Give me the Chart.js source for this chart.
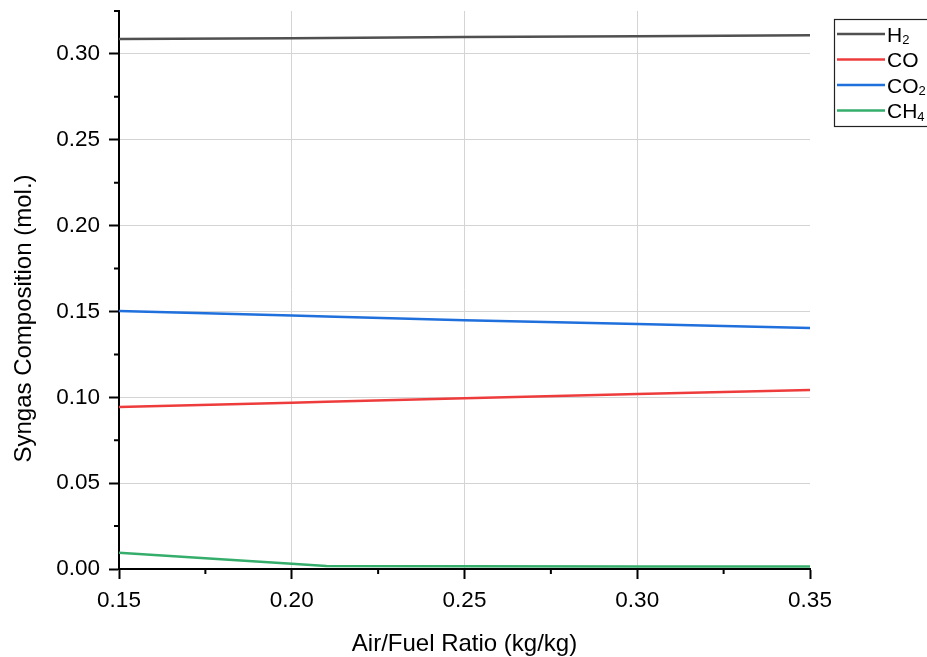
<!DOCTYPE html>
<html>
<head>
<meta charset="utf-8">
<script src="https://cdn.jsdelivr.net/npm/chart.js"></script>
<style>
  html, body { margin: 0; padding: 0; background: #fff; }
  #wrap { width: 927px; height: 657px; }
</style>
</head>
<body>
<div id="wrap"><canvas id="chart" width="927" height="657"></canvas></div>
<script>
// values
const airFuel = [0.15, 0.20, 0.21, 0.25, 0.30, 0.35]
const h2 = [0.3087, 0.3092, 0.3093, 0.3098, 0.3103, 0.3109]
const co = [0.0944, 0.0969, 0.0974, 0.0994, 0.1019, 0.1043]
const co2 = [0.1503, 0.1476, 0.1471, 0.1449, 0.1427, 0.1404]
const ch4 = [0.0095, 0.0030, 0.0017, 0.0016, 0.0015, 0.0015]

const seriesLabels = ['H2', 'CO', 'CO2', 'CH4']
const seriesColors = ['#505050', '#ee3c3c', '#1f6fdc', '#35ad6b']

const xTicks = [0.15, 0.20, 0.25, 0.30, 0.35]
const xMinorTicks = [0.175, 0.225, 0.275, 0.325]
const yTicks = [0, 0.05, 0.10, 0.15, 0.20, 0.25, 0.30]
const yMinorTicks = [0.025, 0.075, 0.125, 0.175, 0.225, 0.275, 0.325]

const yTitle = 'Syngas Composition (mol.)'
const xTitle = 'Air/Fuel Ratio (kg/kg)'

const FONT = 'Arial, "Liberation Sans", sans-serif'

function points(vals) {
  return airFuel.map((x, i) => ({ x: x, y: vals[i] }))
}

const allSeries = [h2, co, co2, ch4]
const datasets = allSeries.map((vals, i) => ({
  label: seriesLabels[i],
  data: points(vals),
  borderColor: seriesColors[i],
  backgroundColor: seriesColors[i],
  borderWidth: 2.5,
  pointRadius: 0,
  tension: 0,
}))

// minor ticks, drawn outside the axes like the major ones
const minorTicks = {
  id: 'minorTicks',
  afterDraw(chart) {
    const ctx = chart.ctx
    const xs = chart.scales.x
    const ys = chart.scales.y
    const area = chart.chartArea
    ctx.save()
    ctx.strokeStyle = '#000'
    ctx.lineWidth = 2
    ctx.beginPath()
    xMinorTicks.forEach(v => {
      const px = xs.getPixelForValue(v)
      ctx.moveTo(px, area.bottom)
      ctx.lineTo(px, area.bottom + 5)
    })
    yMinorTicks.forEach(v => {
      const py = ys.getPixelForValue(v)
      ctx.moveTo(area.left, py)
      ctx.lineTo(area.left - 5, py)
    })
    ctx.stroke()
    ctx.restore()
  },
}

// y title sits a bit below the middle of the axis in the original
const yTitlePlugin = {
  id: 'yTitlePlugin',
  afterDraw(chart) {
    const ctx = chart.ctx
    ctx.save()
    ctx.translate(24.4, 318.5)
    ctx.rotate(-Math.PI / 2)
    ctx.font = '24px ' + FONT
    ctx.fillStyle = '#000'
    ctx.textAlign = 'center'
    ctx.textBaseline = 'middle'
    ctx.fillText(yTitle, 0, 0)
    ctx.restore()
  },
}

// boxed legend to the right of the plot, digits drawn as subscripts
const boxLegend = {
  id: 'boxLegend',
  afterDraw(chart) {
    const ctx = chart.ctx
    const left = 834
    const top = 19
    const rowH = 25.5
    ctx.save()
    ctx.strokeStyle = '#222'
    ctx.lineWidth = 1.2
    ctx.strokeRect(left + 0.5, top + 0.5, 120, 107)
    chart.data.datasets.forEach((ds, i) => {
      const y = top + 15 + i * rowH
      ctx.strokeStyle = ds.borderColor
      ctx.lineWidth = 2.5
      ctx.beginPath()
      ctx.moveTo(left + 3, y)
      ctx.lineTo(left + 51, y)
      ctx.stroke()
      let tx = left + 53
      ctx.fillStyle = '#000'
      ctx.textBaseline = 'alphabetic'
      for (const ch of ds.label) {
        const sub = /[0-9]/.test(ch)
        ctx.font = (sub ? '13px ' : '21px ') + FONT
        ctx.fillText(ch, tx, y + (sub ? 10 : 7.5))
        tx += ctx.measureText(ch).width
      }
    })
    ctx.restore()
  },
}

const ctx = document.getElementById('chart').getContext('2d')
const chart = new Chart(ctx, {
  type: 'line',
  data: { datasets: datasets },
  options: {
    responsive: false,
    animation: false,
    layout: { padding: { top: 11, right: 117, left: 0, bottom: 0 } },
    plugins: {
      legend: { display: false },
      tooltip: { enabled: false },
    },
    scales: {
      x: {
        type: 'linear',
        min: 0.15,
        max: 0.35,
        afterBuildTicks: s => { s.ticks = xTicks.map(v => ({ value: v })) },
        afterFit: s => { s.height = 88; s.paddingLeft = 0; s.paddingRight = 0 },
        ticks: {
          color: '#000',
          font: { family: FONT, size: 22.5 },
          padding: 8,
          maxRotation: 0,
          callback: v => v.toFixed(2),
        },
        grid: {
          color: c => (c.tick && c.tick.value >= 0.349 ? 'rgba(0,0,0,0)' : '#d4d4d4'),
          lineWidth: 1,
          tickColor: '#000',
          tickLength: 10,
          tickWidth: 2,
        },
        border: { display: true, color: '#000', width: 2 },
        title: {
          display: true,
          text: xTitle,
          color: '#000',
          font: { family: FONT, size: 24 },
          padding: { top: 0, bottom: -1.5 },
        },
      },
      y: {
        type: 'linear',
        min: 0,
        max: 0.325,
        afterBuildTicks: s => { s.ticks = yTicks.map(v => ({ value: v })) },
        afterFit: s => { s.width = 119; s.paddingTop = 0; s.paddingBottom = 0 },
        ticks: {
          color: '#000',
          font: { family: FONT, size: 22.5 },
          padding: 9,
          callback: v => v.toFixed(2),
        },
        grid: {
          color: '#d4d4d4',
          lineWidth: 1,
          tickColor: '#000',
          tickLength: 10,
          tickWidth: 2,
        },
        border: { display: true, color: '#000', width: 2 },
        title: { display: false },
      },
    },
  },
  plugins: [minorTicks, yTitlePlugin, boxLegend],
})
</script>
</body>
</html>
